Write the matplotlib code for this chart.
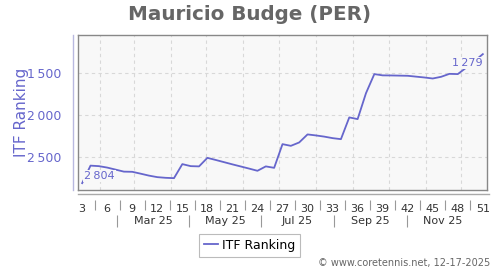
import datetime as dt
import numpy as np
import matplotlib
matplotlib.use("Agg")
import matplotlib.pyplot as plt
from matplotlib.lines import Line2D
from matplotlib.ticker import FuncFormatter

# ITF ranking, one value per week (weeks 3..51 of 2025)
weeks = list(range(3, 52))
ranking = [2804, 2597, 2603, 2620, 2644, 2668, 2670, 2692, 2715, 2733,
           2741, 2745, 2579, 2603, 2606, 2505, 2530, 2556, 2582, 2607,
           2632, 2658, 2606, 2623, 2343, 2363, 2323, 2228, 2240, 2254,
           2272, 2284, 2027, 2047, 1741, 1515, 1530, 1531, 1533, 1535,
           1545, 1555, 1567, 1547, 1512, 1515, 1440, 1360, 1279]
week_ticks = list(range(3, 52, 3))
month_labels = ["Mar 25", "May 25", "Jul 25", "Sep 25", "Nov 25"]

blue = "#6666cc"
fmt = lambda v: f"{int(v):,}".replace(",", "\u2009")

fig = plt.figure(figsize=(5, 2.7), dpi=100)
ax = fig.add_axes([0.156, 0.296, 0.818, 0.574])
ax.set_facecolor("#f8f8f8")

ax.plot(weeks, ranking, color=blue, lw=1.3, zorder=3)

ax.set_xlim(2.5, 51.5)
ax.set_ylim(2886, 1054)
ax.set_yticks([1500, 2000, 2500])
ax.yaxis.set_major_formatter(FuncFormatter(lambda v, p: fmt(v)))
ax.tick_params(axis="y", length=0, pad=12, labelsize=9, labelcolor=blue)

# month gridlines (week units)
def wk(d):
    return (d.timetuple().tm_yday + 4.1) / 7
month_x = [wk(dt.date(2025, m, 1)) for m in range(2, 13)]
for x in month_x:
    ax.axvline(x, color="#d8d8d8", ls=(0, (3, 3)), lw=0.8, zorder=1)
for y in [1500, 2000, 2500]:
    ax.axhline(y, color="#d8d8d8", ls=(0, (3, 3)), lw=0.8, zorder=1)

ax.set_xticks(week_ticks)
ax.set_xticklabels([str(w) for w in week_ticks])
ax.tick_params(axis="x", length=0, pad=10, labelsize=8, labelcolor="#333333")

xt = ax.get_xaxis_transform()
seps = [w + 1.5 for w in week_ticks[:-1]]
ax.vlines(seps, -0.065, -0.13, transform=xt, color="#999999", lw=0.8, clip_on=False)
month_seps = [7.2, 15.8, 24.4, 33.2, 41.9]
ax.vlines(month_seps, -0.16, -0.24, transform=xt, color="#999999", lw=0.8, clip_on=False)
for i, lab in enumerate(month_labels):
    right = month_seps[i + 1] if i + 1 < len(month_seps) else 50.6
    ax.text((month_seps[i] + right) / 2, -0.2, lab, transform=xt,
            ha="center", va="center", fontsize=8, color="#333333")

for s in ax.spines.values():
    s.set_color("#888888")
    s.set_linewidth(1)

# offset axis lines
fig.add_artist(Line2D([73 / 500, 73 / 500], [1 - 35 / 270, 1 - 190 / 270], color="#b8b8e0", lw=1))
fig.add_artist(Line2D([78 / 500, 489 / 500], [1 - 194 / 270, 1 - 194 / 270], color="#aaaaaa", lw=1))

# first and last value labels
bb = dict(boxstyle="square,pad=0.1", fc="#f8f8f8", ec="none")
ax.annotate(fmt(ranking[0]), (weeks[0], ranking[0]), xytext=(1.5, 1.5), textcoords="offset points",
            ha="left", va="bottom", fontsize=8, color=blue, bbox=bb, zorder=4)
ax.annotate(fmt(ranking[-1]), (weeks[-1], ranking[-1]), xytext=(0, -3), textcoords="offset points",
            ha="right", va="top", fontsize=8, color=blue, bbox=bb, zorder=4)

ax.set_ylabel("ITF Ranking", fontsize=11, color=blue)
ax.yaxis.set_label_coords(-0.119, 0.5)
fig.text(0.5, 0.945, "Mauricio Budge (PER)", ha="center", va="center",
         fontsize=14.3, fontweight="bold", color="#666666")

leg = fig.legend([Line2D([], [], color=blue, lw=1.3)], ["ITF Ranking"],
                 loc="center", bbox_to_anchor=(0.499, 0.092), fontsize=9,
                 frameon=True, fancybox=False, handlelength=1.1, handletextpad=0.35,
                 borderpad=0.4)
leg.get_frame().set_edgecolor("#aaaaaa")
leg.get_frame().set_linewidth(0.8)

fig.text(0.981, 0.025, "\u00a9 www.coretennis.net, 12-17-2025", ha="right", va="center",
         fontsize=7, color="#666666")

fig.savefig("out.png", dpi=100)
